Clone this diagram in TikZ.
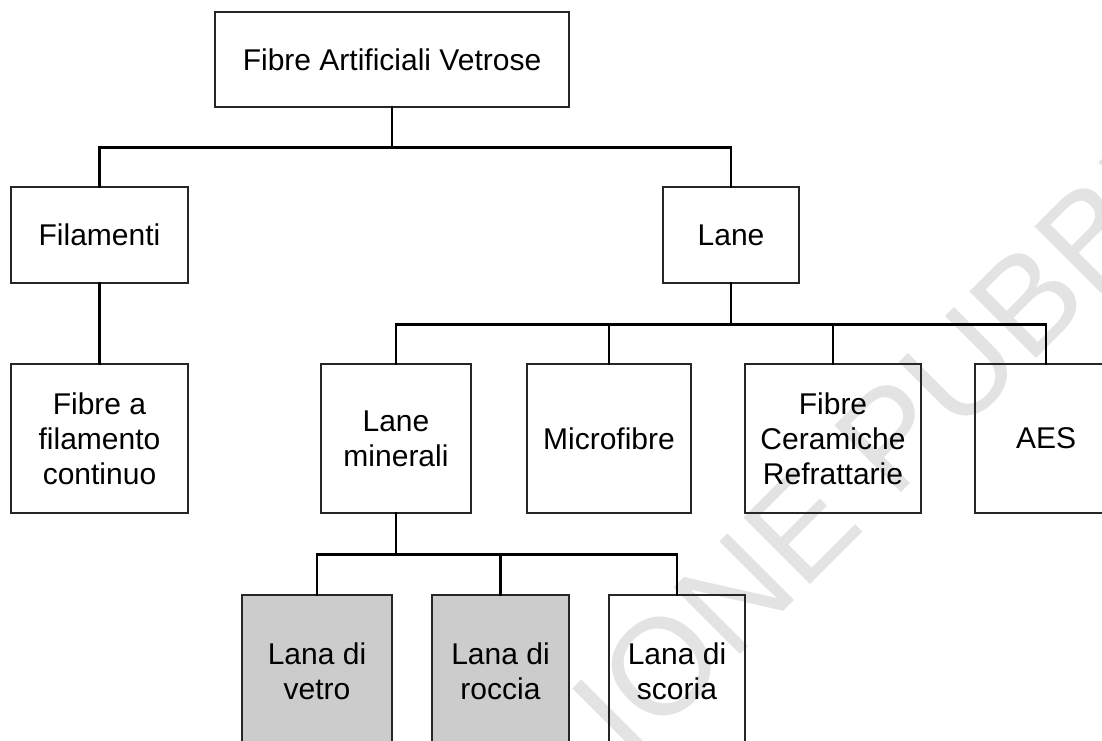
\documentclass[tikz,border=0pt]{standalone}
\usepackage{fontspec}
\setmainfont{Liberation Sans}
\usepackage{tikz}
\usetikzlibrary{positioning,calc}

\tikzset{
    conn/.style = {line width=2.6pt, black, line cap=rect},
    watermark/.style = {
        rotate=45, text=black!11, inner sep=0pt,
        font=\fontsize{137}{137}\selectfont
    }
}

\begin{document}
\begin{tikzpicture}[
        x=1pt, y=-1pt,
        box/.style n args={3}{
            rectangle, draw=black!85, line width=1.3pt,
            fill=#1,
            minimum width=#2,
            minimum height=#3,
            inner sep=0pt, align=center,
            font=\fontsize{30}{35}\selectfont
        },
        lightbox/.style n args={2}{box={none}{#1}{#2}},
        greybox/.style n args={2}{box={black!20}{#1}{#2}}
    ]
        \useasboundingbox (0,0) rectangle (1102,740);
        \clip (0,0) rectangle (1102,740);

        % watermark
        \node[watermark] (wm) at (858,470) {ZIONE PUBBL};

        % level 0 and 1
        \node[lightbox={354pt}{95pt}] (fav) at (392,59.5) {Fibre Artificiali Vetrose};
        \node[lightbox={177pt}{96pt}] (fil) at (99.5,235) {Filamenti};
        \node[lightbox={136pt}{96pt}] (lane) at (731,235) {Lane};

        % level 2
        \node[lightbox={177pt}{149pt}] (fcont) at (99.5,438.5) {Fibre a\\filamento\\continuo};
        \node[lightbox={150pt}{149pt}] (lmin) at (396,438.5) {Lane\\minerali};
        \node[lightbox={164pt}{149pt}] (micro) at (609,438.5) {Microfibre};
        \node[lightbox={176pt}{149pt}] (fcr) at (833,438.5) {Fibre\\Ceramiche\\Refrattarie};
        \node[lightbox={142pt}{149pt}] (aes) at (1046,438.5) {AES};

        % level 3
        \node[greybox={150pt}{152pt}] (lvetro) at (317,671) {Lana di\\vetro};
        \node[greybox={137pt}{152pt}] (lroccia) at (500.5,671) {Lana di\\roccia};
        \node[lightbox={136pt}{152pt}] (lscoria) at (677,671) {Lana di\\scoria};

        % connectors
        \draw[conn] (fav.south) -- ++(0,40) coordinate (bus1);
        \draw[conn] (fil.north) |- (bus1) -| (lane.north);
        \draw[conn] (fil.south) -- (fcont.north);

        \draw[conn] (lane.south) -- ++(0,41) coordinate (bus2);
        \draw[conn] (lmin.north) |- (bus2) -| (aes.north);
        \draw[conn] (micro.north) -- (micro.north |- bus2);
        \draw[conn] (fcr.north) -- (fcr.north |- bus2);

        \draw[conn] (lmin.south) -- ++(0,41) coordinate (bus3);
        \draw[conn] (lvetro.north) |- (bus3) -| (lscoria.north);
        \draw[conn] (lroccia.north) -- (lroccia.north |- bus3);
    \end{tikzpicture}
\end{document}
